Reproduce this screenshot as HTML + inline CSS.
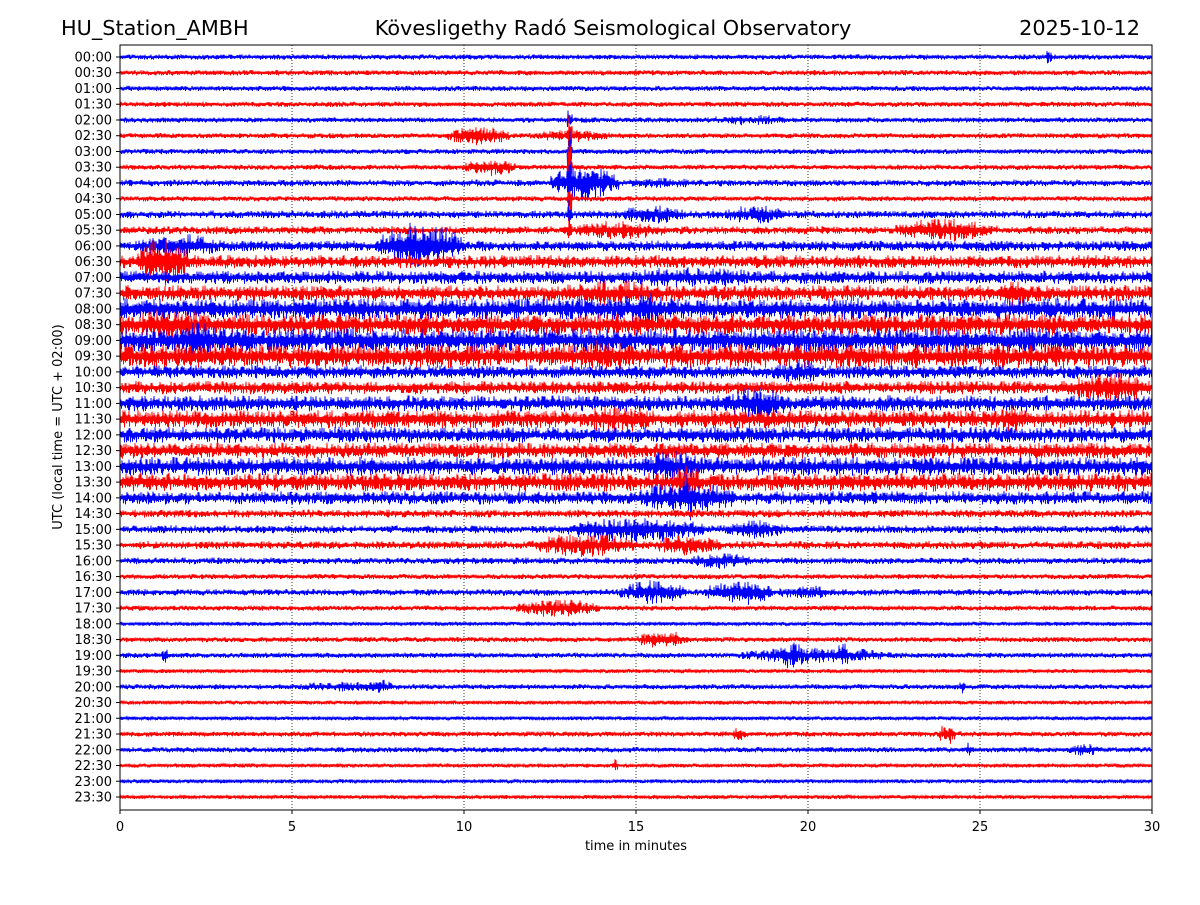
<!DOCTYPE html>
<html><head><meta charset="utf-8">
<style>
body{margin:0;background:#fff;}
svg text{font-family:"DejaVu Sans","Liberation Sans",sans-serif;}
</style></head>
<body>
<svg id="chart" width="1200" height="900" xmlns="http://www.w3.org/2000/svg">
<rect width="1200" height="900" fill="#fff"/>
<text x="61" y="35" font-size="20.8">HU_Station_AMBH</text>
<text x="613" y="35" font-size="20.8" text-anchor="middle">Kövesligethy Radó Seismological Observatory</text>
<text x="1140" y="35" font-size="20.8" text-anchor="end">2025-10-12</text>
<g id="grid"></g>
<g id="traces"></g>
<g id="axes"></g>
<rect x="120" y="45" width="1032" height="765" fill="none" stroke="#000" stroke-width="1"/>
<text x="636" y="850" font-size="13" text-anchor="middle">time in minutes</text>
<text transform="translate(62,427) rotate(-90)" font-size="13" text-anchor="middle">UTC (local time = UTC + 02:00)</text>
</svg>
<script>
const xTicks = [0,5,10,15,20,25,30];
const rowLabels = [];
for (let h=0;h<24;h++){const hh=String(h).padStart(2,'0');rowLabels.push(hh+':00');rowLabels.push(hh+':30');}
// baseline noise half-amplitude (px) per row
const rowBase = [2,2,2,2,2,2,2,2,2.5,2,3,3,4,5,5,6,8,8,9,9,5,5,6,7,6,6,7,7,5,3,3,3,2.5,2,2.5,2,1.5,2,2,1.5,2,1.5,1.5,2,2,1.5,1.5,1.5];
// events: [row, startMin, endMin, amplitude px]
const events = [
[0,26.9,27.1,6],[4,17,19.5,4],[5,9.5,11.3,8],[5,12,14.3,5],[4,13,13.15,12],[5,13,13.15,22],[6,13,13.15,22],
[7,10,11.5,7],[7,13,13.15,22],[8,12.5,14.5,14],[8,14.5,17,4],[8,13,13.15,25],[9,13,13.15,15],[10,13,13.15,14],[11,13,13.15,12],
[10,14.5,16.5,7],[10,17.5,19.5,7],[11,13,16,7],[11,22.5,25.5,9],[12,0.5,3,9],[12,7.5,10,18],[13,0.5,2,18],
[14,14.5,19,8],[15,25.5,26.5,12],[15,12.5,16,10],[16,14.5,16,14],[17,0,3,12],[18,1.5,3,14],[19,13,15,12],
[20,19,20.5,9],[21,27.5,30,12],[22,17.5,19.5,12],[23,25.5,26.5,12],[23,13,16,10],[26,15,17,12],[27,16,17,14],
[28,15,18,12],[28,16.3,16.8,20],[30,13,17,10],[30,17.5,19.5,7],[31,12,15,9],[31,15.5,17.5,8],[32,16.5,18.5,6],
[34,14.5,16.5,9],[34,17,19,10],[34,19,21,5],[35,11.5,14,7],[37,15,16.5,7],[38,18,22.5,6],[38,19,20,10],[38,20.8,21.2,10],
[38,1.2,1.4,6],[40,5,8,4],[40,7,8,6],[40,24.4,24.6,5],[43,23.8,24.3,8],[43,17.8,18.2,5],[44,24.6,24.8,7],[44,27.5,28.5,5],[45,14.3,14.5,5]
];
const NS='http://www.w3.org/2000/svg';
const X0=120,X1=1152,Y0=57,DY=(797-57)/47;
const xs=m=>X0+(X1-X0)*m/30;
const ys=r=>Y0+r*DY;
const grid=document.getElementById('grid'),axes=document.getElementById('axes'),tr=document.getElementById('traces');
xTicks.forEach(t=>{
 const x=xs(t);
 if(t>0&&t<30){const l=document.createElementNS(NS,'line');
 
 
 l.setAttribute('x1',x);l.setAttribute('x2',x);l.setAttribute('y1',45);l.setAttribute('y2',810);
 l.setAttribute('stroke','#000');l.setAttribute('stroke-width','0.8');l.setAttribute('stroke-dasharray','1,2');grid.appendChild(l);}
 const tk=document.createElementNS(NS,'line');
 
 
 tk.setAttribute('x1',x);tk.setAttribute('x2',x);tk.setAttribute('y1',810);tk.setAttribute('y2',814);tk.setAttribute('stroke','#000');axes.appendChild(tk);
 const tx=document.createElementNS(NS,'text');
 
 
 tx.setAttribute('x',x);tx.setAttribute('y',831);tx.setAttribute('font-size','13');tx.setAttribute('text-anchor','middle');tx.textContent=t;axes.appendChild(tx);
});
rowLabels.forEach((lab,r)=>{
 const y=ys(r);
 const tk=document.createElementNS(NS,'line');
 
 
 tk.setAttribute('x1',116);tk.setAttribute('x2',120);tk.setAttribute('y1',y);tk.setAttribute('y2',y);tk.setAttribute('stroke','#000');axes.appendChild(tk);
 const tx=document.createElementNS(NS,'text');
 
 
 tx.setAttribute('x',112);tx.setAttribute('y',y+4.5);tx.setAttribute('font-size','13');tx.setAttribute('text-anchor','end');tx.textContent=lab;axes.appendChild(tx);
});
// deterministic texture for waveform wiggle
function tex(i){const s=Math.sin(i*12.9898+78.233)*43758.5453;return s-Math.floor(s);}
rowLabels.forEach((lab,r)=>{
 const y=ys(r);
 const evs=events.filter(e=>e[0]===r);
 let d='';
 let k=0;
 for(let px=X0;px<=X1;px+=0.5){
  const m=(px-X0)/(X1-X0)*30;
  let a=rowBase[r];
  evs.forEach(e=>{if(m>=e[1]&&m<=e[2]){const c=(e[1]+e[2])/2,h=(e[2]-e[1])/2||0.1;const w=1-Math.pow((m-c)/h,2)*0.6;a=Math.max(a,e[3]*w);}});
  const q=tex(r*5000+k);
  const v=(0.25+0.6*q+0.5*q*q*q*q)*a*(k%2?1:-1);
  d+=(k?'L':'M')+px.toFixed(1)+' '+(y+v).toFixed(1);
  k++;
 }
 const p=document.createElementNS(NS,'path');
 
 
 p.setAttribute('d',d);p.setAttribute('fill','none');p.setAttribute('stroke',r%2?'#ff0000':'#0000ff');p.setAttribute('stroke-width','0.9');
 tr.appendChild(p);
});
</script>
</body></html>
